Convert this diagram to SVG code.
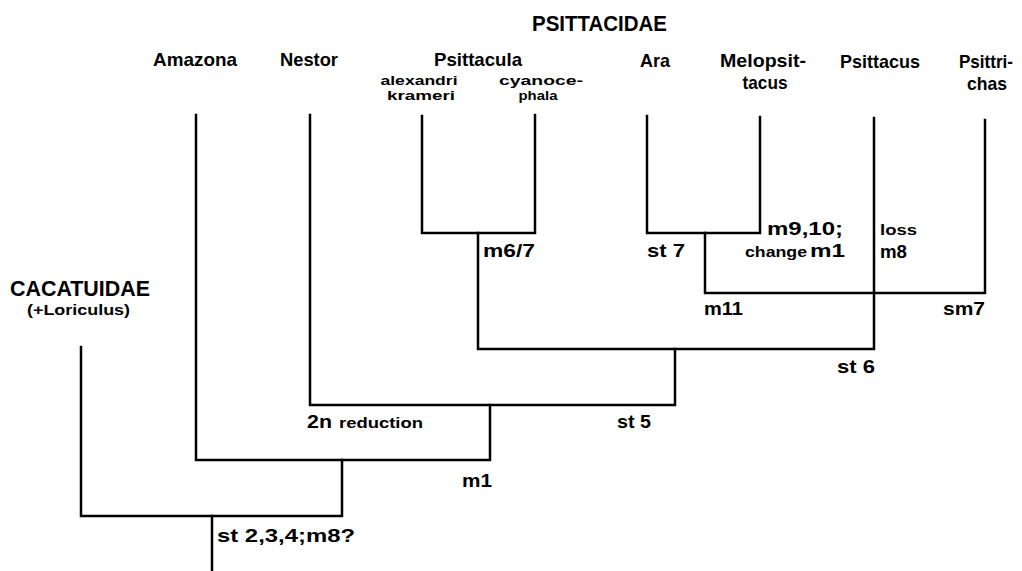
<svg xmlns="http://www.w3.org/2000/svg" width="1022" height="571" viewBox="0 0 1022 571">
<style>
text{font-family:"Liberation Sans",Arial,sans-serif;font-weight:bold;fill:#000}
.fam{font-size:22px}
.tax{font-size:19px;text-anchor:middle}
.sub{font-size:13.5px;text-anchor:middle}
.lab{font-size:19px}
.sm{font-size:15px}
.ln{fill:none;stroke:#000;stroke-width:2.5;stroke-linecap:square;stroke-linejoin:miter}
</style>
<rect width="1022" height="571" fill="#fff"/>
<g id="connectors">
<path class="ln" d="M422,116V233H535V115"/>
<path class="ln" d="M647,116V233H760V117"/>
<path class="ln" d="M705,233V293H985V120"/>
<path class="ln" d="M478,233V349H874V118"/>
<path class="ln" d="M310,115V405H675V349"/>
<path class="ln" d="M196,115V460H490V405"/>
<path class="ln" d="M81,347V516H342V460"/>
<path class="ln" d="M212,516V571"/>
</g>
<g id="psittacidae"><text class="fam" x="532" y="31" textLength="135" lengthAdjust="spacingAndGlyphs">PSITTACIDAE</text></g>
<g id="cacatuidae"><text class="fam" x="10" y="296" textLength="140" lengthAdjust="spacingAndGlyphs">CACATUIDAE</text>
<text class="sm" x="27" y="315" textLength="103" lengthAdjust="spacingAndGlyphs">(+Loriculus)</text></g>
<g id="amazona"><text class="tax" x="195" y="66" textLength="84" lengthAdjust="spacingAndGlyphs">Amazona</text></g>
<g id="nestor"><text class="tax" x="309" y="66" textLength="58" lengthAdjust="spacingAndGlyphs">Nestor</text></g>
<g id="psittacula"><text class="tax" x="478" y="66" textLength="88" lengthAdjust="spacingAndGlyphs">Psittacula</text></g>
<g id="alexandri"><text class="sub" x="419" y="84.5" textLength="77" lengthAdjust="spacingAndGlyphs">alexandri</text>
<text class="sub" x="421" y="100" textLength="68" lengthAdjust="spacingAndGlyphs">krameri</text></g>
<g id="cyanocephala"><text class="sub" x="541" y="84.5" textLength="84" lengthAdjust="spacingAndGlyphs">cyanoce-</text>
<text class="sub" x="538" y="100" textLength="39" lengthAdjust="spacingAndGlyphs">phala</text></g>
<g id="ara"><text class="tax" x="655" y="67" textLength="30" lengthAdjust="spacingAndGlyphs">Ara</text></g>
<g id="melopsittacus"><text class="tax" x="763" y="67" textLength="86" lengthAdjust="spacingAndGlyphs">Melopsit-</text>
<text class="tax" x="765" y="89" textLength="45" lengthAdjust="spacingAndGlyphs">tacus</text></g>
<g id="psittacus"><text class="tax" x="880" y="68" textLength="80" lengthAdjust="spacingAndGlyphs">Psittacus</text></g>
<g id="psittrichas"><text class="tax" x="986" y="68" textLength="54" lengthAdjust="spacingAndGlyphs">Psittri-</text>
<text class="tax" x="987" y="90" textLength="40" lengthAdjust="spacingAndGlyphs">chas</text></g>
<g id="branch-labels">
<text class="lab" x="483" y="257" textLength="52" lengthAdjust="spacingAndGlyphs">m6/7</text>
<text class="lab" x="647" y="257" textLength="38" lengthAdjust="spacingAndGlyphs">st 7</text>
<text class="lab" x="767" y="235" textLength="76" lengthAdjust="spacingAndGlyphs">m9,10;</text>
<text class="sm" x="745" y="257" textLength="62" lengthAdjust="spacingAndGlyphs">change</text>
<text class="lab" x="810" y="257" textLength="35" lengthAdjust="spacingAndGlyphs">m1</text>
<text class="sm" x="880" y="235" textLength="37" lengthAdjust="spacingAndGlyphs">loss</text>
<text class="lab" x="880" y="258" textLength="27" lengthAdjust="spacingAndGlyphs">m8</text>
<text class="lab" x="704" y="315" textLength="39" lengthAdjust="spacingAndGlyphs">m11</text>
<text class="lab" x="943" y="315" textLength="42" lengthAdjust="spacingAndGlyphs">sm7</text>
<text class="lab" x="837" y="373" textLength="38" lengthAdjust="spacingAndGlyphs">st 6</text>
<text class="lab" x="307" y="428" textLength="25" lengthAdjust="spacingAndGlyphs">2n</text>
<text class="sm" x="339" y="428" textLength="84" lengthAdjust="spacingAndGlyphs">reduction</text>
<text class="lab" x="617" y="428" textLength="34" lengthAdjust="spacingAndGlyphs">st 5</text>
<text class="lab" x="462" y="487" textLength="30" lengthAdjust="spacingAndGlyphs">m1</text>
<text class="lab" x="217" y="542" textLength="138" lengthAdjust="spacingAndGlyphs">st 2,3,4;m8?</text>
</g>
</svg>
